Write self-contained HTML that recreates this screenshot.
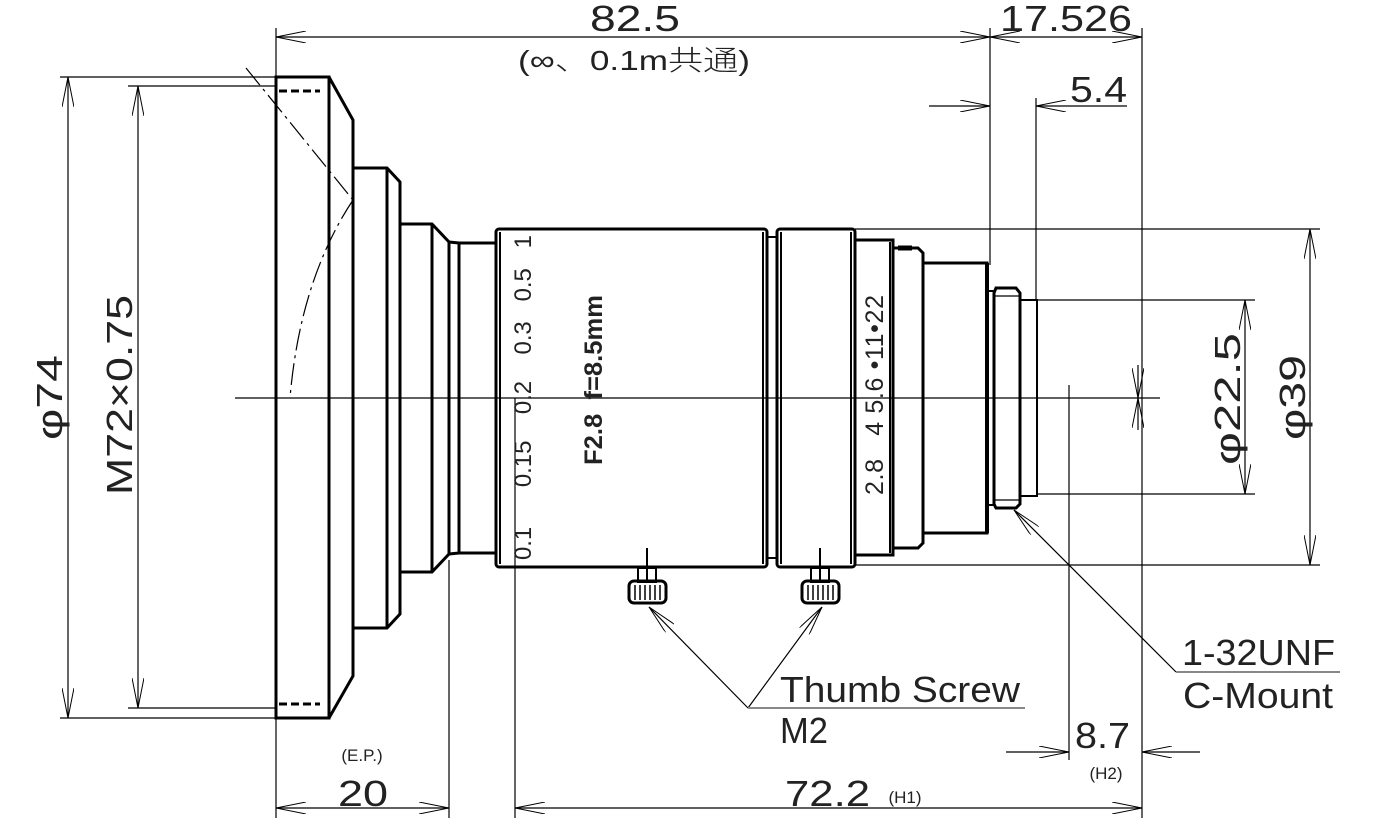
<!DOCTYPE html>
<html><head><meta charset="utf-8"><style>
html,body{margin:0;padding:0;background:#fff;}
svg{display:block;}
text{font-family:"Liberation Sans","Noto Sans CJK JP",sans-serif;fill:#222;}
.t{stroke:#000;stroke-width:3;fill:none;}
.m{stroke:#000;stroke-width:2;fill:none;}
.n{stroke:#000;stroke-width:1.2;fill:none;}
.d{font-size:36px;font-weight:300;}
</style></head><body>
<svg width="1380" height="832" viewBox="0 0 1380 832" xmlns="http://www.w3.org/2000/svg">
<defs>
<marker id="a" viewBox="0 0 30 12" refX="30" refY="6" markerWidth="30" markerHeight="12" markerUnits="userSpaceOnUse" orient="auto-start-reverse"><path d="M0,0 L30,6 L0,12" fill="none" stroke="#000" stroke-width="1"/></marker>
</defs>
<line x1="235" y1="398" x2="1160" y2="398" class="n"/>
<rect x="276" y="77" width="53" height="641" class="t"/>
<path d="M329,77 L353,120 L353,676 L329,718" class="t"/>
<path d="M279,91 L320,91 M279,704 L320,704" stroke="#000" stroke-width="3" stroke-dasharray="8,4" fill="none"/>
<path d="M353,168 L387,168 L400,182 L400,614 L387,628 L353,628" class="t"/>
<line x1="387" y1="168" x2="387" y2="628" class="t"/>
<path d="M400,224 L432,224 L449,242 L449,554 L432,572 L400,572" class="t"/>
<line x1="432" y1="224" x2="432" y2="572" class="t"/>
<path d="M449,242 L459,243 L459,553 L449,554" class="t"/>
<path d="M459,243 L495,243 M459,553 L495,553" class="t"/>
<rect x="496" y="229" width="271" height="338" rx="3" class="t"/>
<line x1="500" y1="232" x2="500" y2="564" class="m"/>
<line x1="763" y1="232" x2="763" y2="564" class="m"/>
<rect x="767" y="237" width="10" height="321" class="m"/>
<rect x="777" y="229" width="78" height="338" rx="3" class="t"/>
<line x1="781" y1="232" x2="781" y2="564" class="m"/>
<line x1="851" y1="232" x2="851" y2="564" class="m"/>
<rect x="855" y="240" width="38" height="315" class="t"/>
<line x1="890" y1="242" x2="890" y2="553" class="m"/>
<path d="M893,248 L918,248 L923,253 L923,543 L918,548 L893,548" class="t"/>
<line x1="898" y1="248" x2="912" y2="248" stroke="#000" stroke-width="5"/>
<rect x="923" y="263" width="64" height="270" class="t"/>
<line x1="987" y1="263" x2="987" y2="533" stroke="#000" stroke-width="4"/>
<rect x="987" y="291" width="7" height="214" class="m"/>
<path d="M996,288 L1016,288 L1020,293 L1020,504 L1016,508 L996,508 L994,504 L994,293 Z" class="t"/>
<line x1="995" y1="296" x2="1019" y2="296" class="n"/>
<line x1="995" y1="500" x2="1019" y2="500" class="n"/>
<rect x="1020" y="300" width="17" height="196" class="m"/>
<path d="M246,68 L353,200" stroke="#000" stroke-width="1.2" stroke-dasharray="22,5,3,5" fill="none"/>
<path d="M353,200 Q300,280 290,398" stroke="#000" stroke-width="1.2" stroke-dasharray="22,5,3,5" fill="none"/>
<g class="m">
<line x1="647" y1="548" x2="647" y2="580"/>
<rect x="638" y="568" width="18" height="14"/>
<rect x="629" y="581" width="37" height="22" rx="5" stroke-width="3"/>
<line x1="820" y1="548" x2="820" y2="580"/>
<rect x="811" y="568" width="18" height="14"/>
<rect x="802" y="581" width="37" height="22" rx="5" stroke-width="3"/>
</g>
<g stroke="#000" stroke-width="1.5">
<line x1="635" y1="585" x2="635" y2="600"/><line x1="640" y1="585" x2="640" y2="600"/><line x1="645" y1="585" x2="645" y2="600"/><line x1="650" y1="585" x2="650" y2="600"/><line x1="655" y1="585" x2="655" y2="600"/><line x1="660" y1="585" x2="660" y2="600"/>
<line x1="808" y1="585" x2="808" y2="600"/><line x1="813" y1="585" x2="813" y2="600"/><line x1="818" y1="585" x2="818" y2="600"/><line x1="823" y1="585" x2="823" y2="600"/><line x1="828" y1="585" x2="828" y2="600"/><line x1="833" y1="585" x2="833" y2="600"/>
</g>
<g class="n">
<line x1="748" y1="708" x2="649" y2="607" marker-end="url(#a)"/>
<line x1="748" y1="708" x2="822" y2="607" marker-end="url(#a)"/>
<line x1="748" y1="708" x2="1025" y2="708" stroke="#888" stroke-width="2"/>
<line x1="1176" y1="672" x2="1014" y2="510" marker-end="url(#a)"/>
<line x1="1176" y1="672" x2="1340" y2="672" stroke="#888" stroke-width="2"/>
</g>
<g class="n">
<line x1="276" y1="28" x2="276" y2="77"/>
<line x1="990" y1="28" x2="990" y2="265"/>
<line x1="1142" y1="28" x2="1142" y2="818"/>
<line x1="1036" y1="98" x2="1036" y2="300"/>
<line x1="60" y1="77" x2="276" y2="77"/>
<line x1="60" y1="718" x2="276" y2="718"/>
<line x1="128" y1="86" x2="276" y2="86"/>
<line x1="128" y1="708" x2="276" y2="708"/>
<line x1="855" y1="229" x2="1320" y2="229"/>
<line x1="855" y1="565" x2="1320" y2="565"/>
<line x1="1037" y1="300" x2="1255" y2="300"/>
<line x1="1037" y1="494" x2="1255" y2="494"/>
<line x1="1069" y1="385" x2="1069" y2="760"/>
<line x1="515" y1="398" x2="515" y2="818"/>
<line x1="276" y1="718" x2="276" y2="818"/>
<line x1="449" y1="560" x2="449" y2="818"/>
</g>
<g class="n">
<line x1="276" y1="37" x2="990" y2="37" marker-start="url(#a)" marker-end="url(#a)"/>
<line x1="990" y1="37" x2="1142" y2="37" marker-start="url(#a)" marker-end="url(#a)"/>
<line x1="929" y1="106" x2="990" y2="106" marker-end="url(#a)"/>
<line x1="1127" y1="106" x2="1036" y2="106" marker-end="url(#a)"/>
<line x1="68" y1="77" x2="68" y2="718" marker-start="url(#a)" marker-end="url(#a)"/>
<line x1="138" y1="86" x2="138" y2="708" marker-start="url(#a)" marker-end="url(#a)"/>
<line x1="1310" y1="229" x2="1310" y2="565" marker-start="url(#a)" marker-end="url(#a)"/>
<line x1="1245" y1="300" x2="1245" y2="494" marker-start="url(#a)" marker-end="url(#a)"/>
<line x1="1138" y1="365" x2="1138" y2="398" marker-end="url(#a)"/>
<line x1="1138" y1="430" x2="1138" y2="398" marker-end="url(#a)"/>
<line x1="1006" y1="752" x2="1069" y2="752" marker-end="url(#a)"/>
<line x1="1200" y1="752" x2="1142" y2="752" marker-end="url(#a)"/>
<line x1="515" y1="808" x2="1142" y2="808" marker-start="url(#a)" marker-end="url(#a)"/>
<line x1="276" y1="808" x2="449" y2="808" marker-start="url(#a)" marker-end="url(#a)"/>
</g>
<g lengthAdjust="spacingAndGlyphs">
<text x="590" y="31" class="d" textLength="90" lengthAdjust="spacingAndGlyphs">82.5</text>
<text x="518" y="70" font-size="28" font-weight="300" textLength="232" lengthAdjust="spacingAndGlyphs">(∞、0.1m共通)</text>
<text x="1000" y="31" class="d" textLength="132" lengthAdjust="spacingAndGlyphs">17.526</text>
<text x="1070" y="102" class="d" textLength="57" lengthAdjust="spacingAndGlyphs">5.4</text>
<text transform="translate(62,440) rotate(-90)" class="d" textLength="85" lengthAdjust="spacingAndGlyphs">φ74</text>
<text transform="translate(132,495) rotate(-90)" class="d" textLength="200" lengthAdjust="spacingAndGlyphs">M72×0.75</text>
<text transform="translate(1240,465) rotate(-90)" class="d" textLength="132" lengthAdjust="spacingAndGlyphs">φ22.5</text>
<text transform="translate(1305,440) rotate(-90)" class="d" textLength="85" lengthAdjust="spacingAndGlyphs">φ39</text>
<text x="1075" y="748" class="d" textLength="55" lengthAdjust="spacingAndGlyphs">8.7</text>
<text x="1106" y="779" font-size="17" text-anchor="middle">(H2)</text>
<text x="785" y="806" class="d" textLength="85" lengthAdjust="spacingAndGlyphs">72.2</text>
<text x="905" y="803" font-size="17" text-anchor="middle">(H1)</text>
<text x="338" y="806" class="d" textLength="50" lengthAdjust="spacingAndGlyphs">20</text>
<text x="362" y="761" font-size="17" text-anchor="middle">(E.P.)</text>
<text x="780" y="702" class="d" textLength="240" lengthAdjust="spacingAndGlyphs">Thumb Screw</text>
<text x="780" y="743" class="d" textLength="48" lengthAdjust="spacingAndGlyphs">M2</text>
<text x="1182" y="665" class="d" textLength="153" lengthAdjust="spacingAndGlyphs">1-32UNF</text>
<text x="1183" y="708" class="d" textLength="150" lengthAdjust="spacingAndGlyphs">C-Mount</text>
<text transform="translate(531,560) rotate(-90)" font-size="24" textLength="325" lengthAdjust="spacing" xml:space="preserve">0.1      0.15    0.2    0.3   0.5   1</text>
<text transform="translate(602,465) rotate(-90)" font-size="25" textLength="170" lengthAdjust="spacingAndGlyphs" font-weight="bold" xml:space="preserve">F2.8  f=8.5mm</text>
<text transform="translate(883,495) rotate(-90)" font-size="25" textLength="200" lengthAdjust="spacing" xml:space="preserve">2.8   4 5.6 •11•22</text>
</g>
</svg>
</body></html>
